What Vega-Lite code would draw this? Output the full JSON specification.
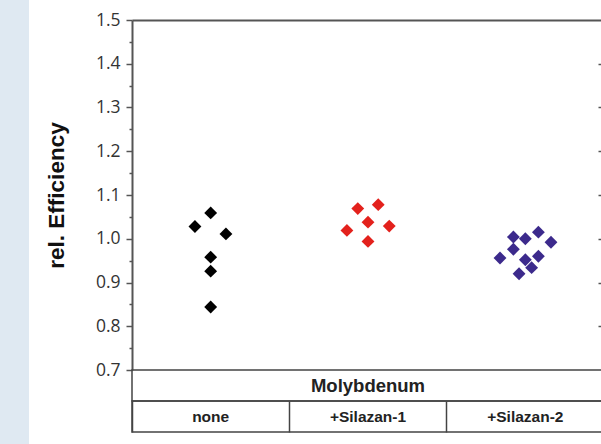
{
  "$schema": "https://vega.github.io/schema/vega-lite/v6.json",
  "background": "white",
  "padding": 0,
  "config": {"view": {"stroke": null}},
  "datasets": {
    "points": [
      {"group": "none", "jitter": 0.0, "eff": 1.059},
      {"group": "none", "jitter": -0.1, "eff": 1.028},
      {"group": "none", "jitter": 0.097, "eff": 1.011},
      {"group": "none", "jitter": 0.0, "eff": 0.958},
      {"group": "none", "jitter": 0.0, "eff": 0.926},
      {"group": "none", "jitter": 0.0, "eff": 0.844},
      {"group": "+Silazan-1", "jitter": -0.065, "eff": 1.069},
      {"group": "+Silazan-1", "jitter": 0.065, "eff": 1.078},
      {"group": "+Silazan-1", "jitter": 0.0, "eff": 1.038},
      {"group": "+Silazan-1", "jitter": -0.134, "eff": 1.019},
      {"group": "+Silazan-1", "jitter": 0.135, "eff": 1.029},
      {"group": "+Silazan-1", "jitter": 0.0, "eff": 0.994},
      {"group": "+Silazan-2", "jitter": -0.076, "eff": 1.004},
      {"group": "+Silazan-2", "jitter": 0.0, "eff": 1.0},
      {"group": "+Silazan-2", "jitter": 0.083, "eff": 1.015},
      {"group": "+Silazan-2", "jitter": 0.163, "eff": 0.992},
      {"group": "+Silazan-2", "jitter": -0.076, "eff": 0.976},
      {"group": "+Silazan-2", "jitter": -0.161, "eff": 0.956},
      {"group": "+Silazan-2", "jitter": 0.0, "eff": 0.952},
      {"group": "+Silazan-2", "jitter": 0.083, "eff": 0.96},
      {"group": "+Silazan-2", "jitter": 0.04, "eff": 0.934},
      {"group": "+Silazan-2", "jitter": -0.04, "eff": 0.92}
    ],
    "header": [{"label": "Molybdenum"}],
    "cats": [
      {"group": "none"},
      {"group": "+Silazan-1"},
      {"group": "+Silazan-2"}
    ]
  },
  "bounds": "flush",
  "spacing": 103,
  "hconcat": [
    {
      "width": 29,
      "height": 444,
      "view": {"fill": "#dfe9f2", "stroke": null},
      "data": {"values": [{}]},
      "mark": {"type": "point", "opacity": 0}
    },
    {
      "bounds": "flush",
      "spacing": 0,
      "vconcat": [
        {
          "width": 472,
          "height": 20,
          "data": {"values": [{}]},
          "mark": {"type": "point", "opacity": 0}
        },
        {
          "width": 472,
          "height": 350,
          "data": {"name": "points"},
          "resolve": {"axis": {"y": "independent"}},
          "layer": [
            {
              "mark": {"type": "point", "shape": "diamond", "filled": true, "size": 165, "opacity": 1, "strokeWidth": 0},
              "encoding": {
                "x": {
                  "field": "group", "type": "nominal", "sort": null,
                  "scale": {"type": "band", "domain": ["none", "+Silazan-1", "+Silazan-2"], "paddingInner": 0, "paddingOuter": 0},
                  "axis": {"orient": "top", "labels": false, "ticks": false, "domain": true, "domainColor": "#555", "domainWidth": 2, "title": null}
                },
                "xOffset": {"field": "jitter", "type": "quantitative", "scale": {"domain": [-0.5, 0.5]}},
                "y": {
                  "field": "eff", "type": "quantitative",
                  "scale": {"domain": [0.7, 1.5], "nice": false, "zero": false},
                  "axis": {
                    "orient": "left",
                    "values": [0.7, 0.75, 0.8, 0.85, 0.9, 0.95, 1.0, 1.05, 1.1, 1.15, 1.2, 1.25, 1.3, 1.35, 1.4, 1.45, 1.5],
                    "labelExpr": "abs(datum.value * 10 - round(datum.value * 10)) < 0.01 ? format(datum.value, '.1f') : ''",
                    "tickSize": {"condition": {"test": "abs(datum.value * 10 - round(datum.value * 10)) < 0.01", "value": 6}, "value": 3},
                    "grid": false,
                    "domainColor": "#555", "domainWidth": 2,
                    "tickColor": "#555", "tickWidth": 1.5,
                    "labelColor": "#333", "labelFont": "Open Sans", "labelFontSize": 17.5,
                    "labelPadding": 6, "labelOverlap": false, "labelFlush": false,
                    "title": "rel. Efficiency",
                    "titleFont": "Liberation Sans", "titleFontWeight": "bold", "titleFontSize": 22.5,
                    "titleColor": "#111", "titlePadding": 27
                  }
                },
                "color": {
                  "field": "group", "type": "nominal",
                  "scale": {"domain": ["none", "+Silazan-1", "+Silazan-2"], "range": ["#000000", "#e3211c", "#3c2a8c"]},
                  "legend": null
                }
              }
            },
            {
              "mark": {"type": "point", "opacity": 0},
              "encoding": {
                "y": {
                  "field": "eff", "type": "quantitative",
                  "axis": {
                    "orient": "right",
                    "values": [0.75, 0.8, 0.85, 0.9, 0.95, 1.0, 1.05, 1.1, 1.15, 1.2, 1.25, 1.3, 1.35, 1.4, 1.45],
                    "labels": false, "domain": false, "grid": false, "title": null,
                    "tickSize": {"condition": {"test": "abs(datum.value * 10 - round(datum.value * 10)) < 0.01", "value": -6}, "value": -2},
                    "tickColor": "#555", "tickWidth": 1.5
                  }
                }
              }
            }
          ]
        },
        {
          "width": 472,
          "height": 31,
          "view": {"stroke": "#444", "strokeWidth": 1.5},
          "data": {"name": "header"},
          "mark": {"type": "text", "font": "Liberation Sans", "fontWeight": "bold", "fontSize": 18.5, "color": "#222", "baseline": "middle"},
          "encoding": {"text": {"field": "label"}}
        },
        {
          "width": 472,
          "height": 31,
          "view": {"stroke": "#444", "strokeWidth": 1.5},
          "data": {"name": "cats"},
          "mark": {"type": "text", "font": "Liberation Sans", "fontWeight": "bold", "fontSize": 15.5, "color": "#222", "baseline": "middle"},
          "encoding": {
            "x": {
              "field": "group", "type": "nominal", "sort": null,
              "scale": {"type": "band", "domain": ["none", "+Silazan-1", "+Silazan-2"], "paddingInner": 0, "paddingOuter": 0},
              "axis": {"orient": "bottom", "bandPosition": 0, "grid": true, "gridColor": "#444", "gridWidth": 1.5, "gridOpacity": 1, "labels": false, "ticks": false, "domain": false, "title": null}
            },
            "text": {"field": "group"}
          }
        }
      ]
    }
  ]
}
